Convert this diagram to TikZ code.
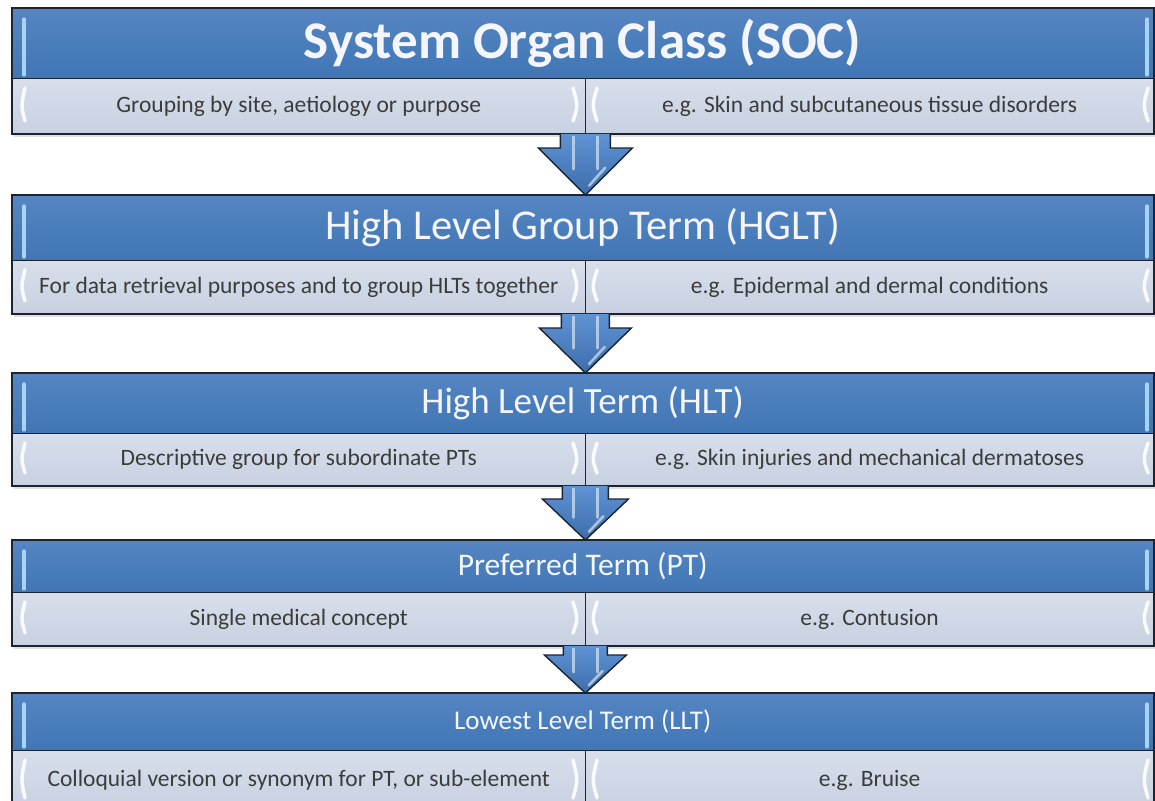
\documentclass[tikz,border=0pt]{standalone}
\usepackage{fontspec}
\setmainfont{Carlito}
\usetikzlibrary{calc}
\definecolor{hdrblue}{HTML}{4A7EBB}
\definecolor{hdrtop}{HTML}{5685C2}
\definecolor{hdrbot}{HTML}{4275B5}
\definecolor{rowtop}{HTML}{D8DEEA}
\definecolor{rowbot}{HTML}{C8D1E2}
\definecolor{edge}{HTML}{1C2430}
\definecolor{rowtext}{HTML}{3C3C3C}
\definecolor{hltblue}{HTML}{A9D3F3}
\definecolor{arrtop}{HTML}{5E93D4}
\definecolor{arrbot}{HTML}{3D6DAB}
\tikzset{
  hdr/.style={rectangle, inner sep=0pt, anchor=north west, minimum width=1141,
    top color=hdrtop, bottom color=hdrbot, middle color=hdrblue, text=white!96!blue},
  cell/.style={rectangle, inner sep=0pt, anchor=north west,
    top color=rowtop, bottom color=rowbot, text=rowtext,
    font=\fontsize{23.5}{27}\selectfont},
  boxedge/.style={draw=edge, line width=1.6pt},
  shadowbox/.style={fill=black, opacity=0.12},
  hdrhl/.style={draw=hltblue, line width=3.2pt, line cap=round},
  rowhl/.style={draw=white, line width=3.5pt, line cap=round, opacity=0.9},
  arrfill/.style={top color=arrtop, bottom color=arrbot},
  arredge/.style={draw=edge, line width=1.4pt, line join=miter},
  arrhl/.style={draw=white, opacity=0.55, line width=2.6pt, line cap=round}
}
% #1 name, #2 top, #3 divider, #4 bottom, #5 title font, #6 title, #7 left, #8 right
\newcommand\levelbox[8]{%
  \fill[shadowbox] (14,{#2+3}) rectangle (1155,{#4+4});
  \node[hdr, minimum height={#3-#2}, font=#5] (#1-h) at (12,#2) {#6};
  \node[cell, minimum width=573, minimum height={#4-#3}] (#1-l) at (#1-h.south west) {#7};
  \node[cell, minimum width=568, minimum height={#4-#3}] (#1-r) at (#1-l.north east) {#8};
  \draw[boxedge] (#1-h.north west) rectangle (#1-r.south east);
  \draw[boxedge] (#1-h.south west) -- (#1-h.south east);
  \draw[boxedge] (#1-l.north east) -- (#1-l.south east);
  \draw[hdrhl] (24,{#2+11}) -- (24,{#3-3});
  \draw[hdrhl] (1147,{#2+11}) -- (1147,{#3-3});
  \draw[rowhl] (25,{#3+10}) .. controls (21,{(#3+#4)/2}) .. (25,{#4-12});
  \draw[rowhl] (573,{#3+10}) .. controls (578,{(#3+#4)/2}) .. (573,{#4-12});
  \draw[rowhl] (597,{#3+10}) .. controls (592,{(#3+#4)/2}) .. (597,{#4-12});
  \draw[rowhl] (1148,{#3+10}) .. controls (1143,{(#3+#4)/2}) .. (1148,{#4-12});
}
% #1 upper cell node, #2 lower header node, #3 head height, #4 head half width, #5 shaft half width
\newcommand\blockarrow[5]{%
  \path (#1.south east) coordinate (A0) (#1.south east |- #2.north) coordinate (A1);
  \fill[arrfill] ($(A0)+(-#5,0)$) -- ($(A1)+(-#5,-#3)$) -- ($(A1)+(-#4,-#3)$) -- (A1)
     -- ($(A1)+(#4,-#3)$) -- ($(A1)+(#5,-#3)$) -- ($(A0)+(#5,0)$) -- cycle;
  \draw[arrhl] ($(A0)+(-12,3)$) -- ($(A1)+(-12,{-0.55*#3})$);
  \draw[arrhl] ($(A0)+(12,3)$) -- ($(A1)+(12,{-0.55*#3})$);
  \draw[arrhl] ($(A1)+({0.42*#4},{-0.58*#3})$) -- ($(A1)+({0.08*#4},{-0.2*#3})$);
  \draw[arredge] ($(A0)+(-#5,0)$) -- ($(A1)+(-#5,-#3)$) -- ($(A1)+(-#4,-#3)$) -- (A1)
     -- ($(A1)+(#4,-#3)$) -- ($(A1)+(#5,-#3)$) -- ($(A0)+(#5,0)$);
}
\begin{document}
\begin{tikzpicture}[x=1pt,y=-1pt]
\useasboundingbox[fill=white] (0,0) rectangle (1155,800);
\levelbox{soc}{8}{78}{133}{\fontsize{53}{58}\selectfont\bfseries}{System Organ Class (SOC)}%
  {Grouping by site, aetiology or purpose}{e.g. Skin and subcutaneous tissue disorders}
\levelbox{hglt}{195}{260}{313}{\fontsize{42.5}{48}\selectfont}{High Level Group Term (HGLT)}%
  {For data retrieval purposes and to group HLTs together}{e.g. Epidermal and dermal conditions}
\levelbox{hlt}{373}{433}{485}{\fontsize{37}{42}\selectfont}{High Level Term (HLT)}%
  {Descriptive group for subordinate PTs}{e.g. Skin injuries and mechanical dermatoses}
\levelbox{pt}{540}{592}{645}{\fontsize{31.5}{36}\selectfont}{Preferred Term (PT)}%
  {Single medical concept}{e.g. Contusion}
\levelbox{llt}{693}{750}{810}{\fontsize{27}{31}\selectfont}{Lowest Level Term (LLT)}%
  {Colloquial version or synonym for PT, or sub-element}{e.g. Bruise}
\blockarrow{soc-l}{hglt-h}{47}{47}{25}
\blockarrow{hglt-l}{hlt-h}{45}{46}{24}
\blockarrow{hlt-l}{pt-h}{41}{43}{23}
\blockarrow{pt-l}{llt-h}{38}{41}{22}
\end{tikzpicture}
\end{document}
